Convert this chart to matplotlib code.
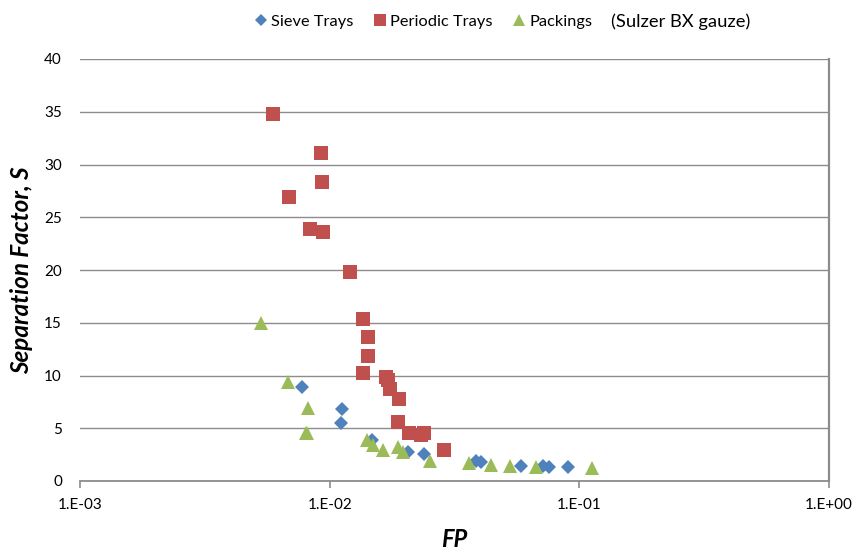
import matplotlib
matplotlib.use("Agg")
import matplotlib.pyplot as plt
from matplotlib.ticker import FixedLocator, NullLocator

plt.rcParams['font.family'] = ['Lato', 'DejaVu Sans']

# Sieve trays
sieve_fp = [7.75e-3, 1.12e-2, 1.11e-2, 1.475e-2, 2.06e-2, 2.39e-2, 3.86e-2, 4.04e-2,
            5.83e-2, 7.14e-2, 7.55e-2, 9.0e-2]
sieve_s = [8.9, 6.8, 5.5, 3.9, 2.75, 2.56, 1.9, 1.8, 1.42, 1.42, 1.33, 1.33]

# Periodic trays
periodic_fp = [5.93e-3, 6.87e-3, 9.23e-3, 9.3e-3, 8.34e-3, 9.4e-3, 1.205e-2, 1.358e-2,
               1.42e-2, 1.42e-2, 1.358e-2, 1.68e-2, 1.71e-2, 1.74e-2, 1.9e-2, 1.87e-2,
               2.08e-2, 2.32e-2, 2.38e-2, 2.87e-2]
periodic_s = [34.8, 26.9, 31.1, 28.3, 23.9, 23.6, 19.8, 15.35, 13.65, 11.85, 10.24,
              9.86, 9.6, 8.7, 7.77, 5.6, 4.55, 4.36, 4.55, 2.94]

# Packings (Sulzer BX gauze)
packing_fp = [5.31e-3, 6.81e-3, 8.18e-3, 8.02e-3, 8.14e-3, 1.41e-2, 1.49e-2, 1.63e-2,
              1.88e-2, 1.97e-2, 2.52e-2, 3.62e-2, 4.43e-2, 5.27e-2, 6.7e-2, 0.112]
packing_s = [15.0, 9.4, 6.9, 4.55, 4.55, 3.9, 3.4, 2.94, 3.2, 2.75, 1.9, 1.7, 1.5,
             1.42, 1.33, 1.2]

x_ticks = [1e-3, 1e-2, 1e-1, 1e0]
x_tick_labels = ["1.E-03", "1.E-02", "1.E-01", "1.E+00"]
y_ticks = [0, 5, 10, 15, 20, 25, 30, 35, 40]

blue = "#4F81BD"
red = "#C0504D"
green = "#9BBB59"
grid_gray = "#8C8C8C"

fig = plt.figure(figsize=(8.55, 5.52), dpi=100)
ax = fig.add_axes([80/855, 1-481/552, (829-80)/855, (481-59)/552])

ax.plot(sieve_fp, sieve_s, linestyle="none", marker="D", markersize=6.8,
        color=blue, markeredgewidth=0, label="Sieve Trays", zorder=3)
ax.plot(periodic_fp, periodic_s, linestyle="none", marker="s", markersize=10,
        color=red, markeredgewidth=0, label="Periodic Trays", zorder=4)
ax.plot(packing_fp, packing_s, linestyle="none", marker="^", markersize=10,
        color=green, markeredgewidth=0, label="Packings", zorder=5)

ax.set_xscale("log")
ax.set_xlim(1e-3, 1e0)
ax.set_ylim(0, 40)
ax.xaxis.set_major_locator(FixedLocator(x_ticks))
ax.xaxis.set_minor_locator(NullLocator())
ax.set_xticklabels(x_tick_labels)
ax.set_yticks(y_ticks)

ax.yaxis.grid(True, color=grid_gray, linewidth=1.0)
ax.set_axisbelow(True)

for s in ["left", "top"]:
    ax.spines[s].set_visible(False)
ax.spines["bottom"].set_color(grid_gray)
ax.spines["bottom"].set_linewidth(1.3)
ax.spines["right"].set_color(grid_gray)
ax.spines["right"].set_linewidth(1.6)

ax.tick_params(axis="x", direction="out", length=5, width=1.2, color=grid_gray,
               labelsize=11, pad=7, labelcolor="#000000")
ax.tick_params(axis="y", length=0, labelsize=11, pad=13, labelcolor="#000000")

ax.set_xlabel("FP", fontsize=17, fontweight="bold", fontstyle="italic", labelpad=12)
ax.set_ylabel("Separation Factor, S", fontsize=17.5, fontweight="bold",
              fontstyle="italic", labelpad=8)

leg = fig.legend(loc="center", bbox_to_anchor=(0.494, 1-22/552), ncol=3, frameon=False,
                 fontsize=11.8, handletextpad=0.1, columnspacing=1.15, handlelength=1.0,
                 markerscale=0.9, borderaxespad=0)
fig.text(611/855, 1-22/552, "(Sulzer BX gauze)", fontsize=13.2, ha="left", va="center")

fig.savefig("out.png", dpi=100)
